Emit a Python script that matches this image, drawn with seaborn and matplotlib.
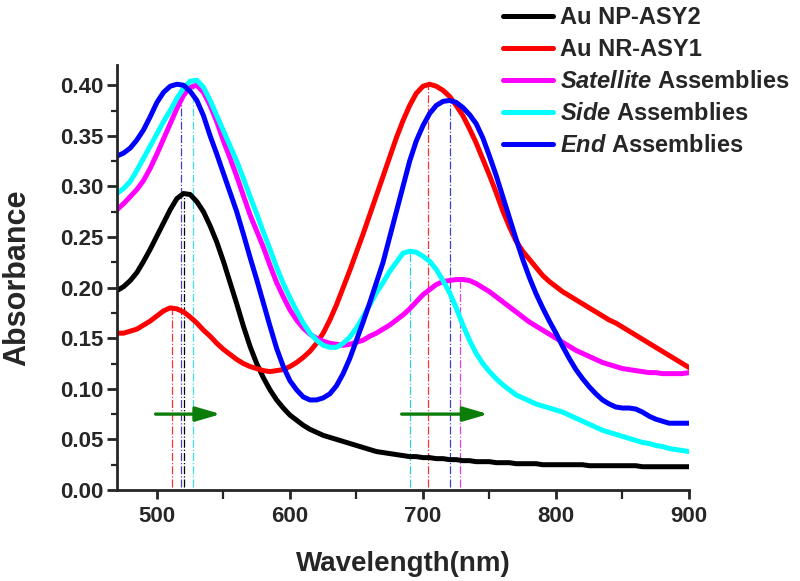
import matplotlib
matplotlib.use("Agg")
import matplotlib.pyplot as plt
from matplotlib.ticker import MultipleLocator, FormatStrFormatter
import seaborn as sns
import pandas as pd

# wavelength grid (nm) shared by all spectra, 5 nm steps; 10 values per row below
wavelength = list(range(470, 901, 5))

np_asy2 = [0.197, 0.201, 0.207, 0.215, 0.226, 0.238, 0.251, 0.264, 0.277, 0.288,
           0.293, 0.292, 0.285, 0.275, 0.261, 0.245, 0.226, 0.205, 0.184, 0.162,
           0.142, 0.125, 0.111, 0.099, 0.089, 0.081, 0.074, 0.069, 0.064, 0.060,
           0.057, 0.054, 0.052, 0.050, 0.048, 0.046, 0.044, 0.042, 0.040, 0.038,
           0.037, 0.036, 0.035, 0.034, 0.033, 0.033, 0.032, 0.032, 0.031, 0.031,
           0.030, 0.030, 0.029, 0.029, 0.028, 0.028, 0.028, 0.027, 0.027, 0.027,
           0.026, 0.026, 0.026, 0.026, 0.025, 0.025, 0.025, 0.025, 0.025, 0.025,
           0.025, 0.024, 0.024, 0.024, 0.024, 0.024, 0.024, 0.024, 0.024, 0.023,
           0.023, 0.023, 0.023, 0.023, 0.023, 0.023, 0.023]
nr_asy1 = [0.155, 0.155, 0.157, 0.159, 0.163, 0.167, 0.172, 0.177, 0.180, 0.179,
           0.176, 0.171, 0.165, 0.158, 0.152, 0.145, 0.139, 0.134, 0.129, 0.125,
           0.122, 0.120, 0.118, 0.117, 0.118, 0.119, 0.122, 0.126, 0.131, 0.137,
           0.145, 0.155, 0.168, 0.183, 0.200, 0.217, 0.235, 0.253, 0.272, 0.291,
           0.310, 0.329, 0.348, 0.365, 0.380, 0.392, 0.399, 0.401, 0.399, 0.395,
           0.389, 0.380, 0.370, 0.357, 0.343, 0.327, 0.311, 0.294, 0.276, 0.260,
           0.246, 0.236, 0.228, 0.220, 0.212, 0.206, 0.201, 0.196, 0.192, 0.188,
           0.184, 0.180, 0.176, 0.172, 0.168, 0.165, 0.161, 0.157, 0.153, 0.149,
           0.145, 0.141, 0.137, 0.133, 0.129, 0.125, 0.121]
satellite = [0.277, 0.283, 0.290, 0.297, 0.306, 0.318, 0.332, 0.347, 0.362, 0.377,
             0.390, 0.398, 0.400, 0.393, 0.380, 0.364, 0.345, 0.328, 0.310, 0.291,
             0.272, 0.256, 0.240, 0.222, 0.205, 0.191, 0.178, 0.168, 0.160, 0.154,
             0.150, 0.147, 0.145, 0.144, 0.143, 0.144, 0.146, 0.148, 0.152, 0.155,
             0.159, 0.163, 0.168, 0.173, 0.179, 0.186, 0.193, 0.198, 0.203, 0.206,
             0.207, 0.208, 0.208, 0.207, 0.204, 0.200, 0.196, 0.191, 0.186, 0.181,
             0.176, 0.171, 0.166, 0.162, 0.158, 0.154, 0.150, 0.146, 0.142, 0.138,
             0.135, 0.132, 0.129, 0.126, 0.124, 0.122, 0.120, 0.119, 0.118, 0.117,
             0.116, 0.116, 0.115, 0.115, 0.115, 0.115, 0.116]
side = [0.293, 0.298, 0.305, 0.316, 0.328, 0.340, 0.352, 0.364, 0.375, 0.387,
        0.397, 0.404, 0.405, 0.398, 0.385, 0.370, 0.355, 0.340, 0.325, 0.308,
        0.290, 0.273, 0.255, 0.238, 0.220, 0.204, 0.190, 0.177, 0.165, 0.155,
        0.148, 0.143, 0.141, 0.141, 0.145, 0.151, 0.160, 0.171, 0.183, 0.195,
        0.205, 0.216, 0.225, 0.234, 0.236, 0.235, 0.231, 0.226, 0.218, 0.207,
        0.195, 0.180, 0.163, 0.148, 0.135, 0.125, 0.117, 0.110, 0.104, 0.099,
        0.094, 0.091, 0.088, 0.085, 0.083, 0.081, 0.079, 0.077, 0.074, 0.071,
        0.068, 0.065, 0.062, 0.059, 0.057, 0.055, 0.053, 0.051, 0.049, 0.047,
        0.046, 0.044, 0.043, 0.041, 0.040, 0.039, 0.038]
end = [0.330, 0.333, 0.338, 0.346, 0.356, 0.369, 0.383, 0.393, 0.399, 0.401,
       0.400, 0.394, 0.385, 0.370, 0.350, 0.332, 0.313, 0.294, 0.275, 0.253,
       0.230, 0.208, 0.185, 0.162, 0.140, 0.122, 0.108, 0.099, 0.092, 0.089,
       0.089, 0.091, 0.095, 0.103, 0.115, 0.130, 0.148, 0.166, 0.185, 0.205,
       0.225, 0.250, 0.275, 0.300, 0.325, 0.345, 0.360, 0.372, 0.380, 0.384,
       0.385, 0.383, 0.378, 0.371, 0.362, 0.348, 0.330, 0.311, 0.290, 0.269,
       0.248, 0.228, 0.210, 0.194, 0.180, 0.167, 0.155, 0.142, 0.130, 0.119,
       0.110, 0.102, 0.095, 0.089, 0.085, 0.082, 0.081, 0.081, 0.080, 0.077,
       0.073, 0.070, 0.068, 0.066, 0.066, 0.066, 0.066]

samples = ["Au NP-ASY2", "Au NR-ASY1", "Satellite", "Side", "End"]
labels = ["Au NP-ASY2", "Au NR-ASY1",
          r"$\mathbfit{Satellite}$ Assemblies",
          r"$\mathbfit{Side}$ Assemblies",
          r"$\mathbfit{End}$ Assemblies"]
colors = ["#000000", "#ff0000", "#ff00ff", "#00ffff", "#0000ff"]

# plasmon peak markers: wavelength, peak absorbance, colour
peak_nm = [511, 518, 520.5, 527, 690, 704, 720, 728]
peak_abs = [0.180, 0.401, 0.293, 0.405, 0.236, 0.401, 0.385, 0.208]
peak_col = ["#ff3030", "#4040c8", "#000000", "#40e0e0", "#30d0d0", "#ff3030", "#4040c8", "#e040e0"]

# red-shift arrows
arrow_start = [499, 684]
arrow_end = [548, 749]
arrow_y = 0.075

df = pd.DataFrame({
    "wavelength": wavelength * 5,
    "absorbance": np_asy2 + nr_asy1 + satellite + side + end,
    "sample": [s for s in samples for _ in wavelength],
})

sns.set_style("ticks")
plt.rcParams["font.family"] = ["Liberation Sans", "DejaVu Sans"]
plt.rcParams["font.weight"] = "bold"
plt.rcParams["mathtext.fontset"] = "custom"
plt.rcParams["mathtext.bfit"] = "Liberation Sans:italic:bold"
plt.rcParams["mathtext.rm"] = "Liberation Sans:bold"

fig = plt.figure(figsize=(8, 5.81), dpi=100)
ax = fig.add_axes([117 / 800, 1 - 490 / 581, 572 / 800, 425 / 581])

# thin dash-dot lines marking the peak positions
ax.vlines(peak_nm, 0.003, peak_abs, colors=peak_col, linestyles="-.", lw=0.9, zorder=1)

sns.lineplot(data=df, x="wavelength", y="absorbance", hue="sample",
             hue_order=samples, palette=colors, lw=3.6, sort=False,
             solid_joinstyle="round", legend=False, ax=ax, zorder=2)

for x0, x1 in zip(arrow_start, arrow_end):
    ax.annotate("", xy=(x1, arrow_y), xytext=(x0, arrow_y),
                arrowprops=dict(arrowstyle="-|>,head_length=0.75,head_width=0.22",
                                color="#0b7d0b", lw=2.4, mutation_scale=20,
                                shrinkA=0, shrinkB=0), zorder=3)

ax.set_xlim(470, 900)
ax.set_ylim(0, 0.42)
ax.xaxis.set_major_locator(MultipleLocator(100))
ax.xaxis.set_minor_locator(MultipleLocator(50))
ax.yaxis.set_major_locator(MultipleLocator(0.05))
ax.yaxis.set_minor_locator(MultipleLocator(0.025))
ax.yaxis.set_major_formatter(FormatStrFormatter("%.2f"))

sns.despine(ax=ax)
for side_name in ["left", "bottom"]:
    ax.spines[side_name].set_linewidth(2.0)
ax.tick_params(which="major", length=7, width=2.0, labelsize=16, pad=3)
ax.tick_params(which="minor", length=4, width=1.6)
ax.tick_params(axis="x", which="both", length=6.5, pad=5)

ax.set_xlabel("Wavelength(nm)", fontsize=20, fontweight="bold", labelpad=17)
ax.set_ylabel("Absorbance", fontsize=22, fontweight="bold")
ax.yaxis.set_label_coords(-0.148, 0.5)

handles = ax.get_lines()[:5]
ax.legend(handles, labels, loc="upper left", bbox_to_anchor=(503 / 800, 1 - 6 / 581),
          bbox_transform=fig.transFigure, frameon=False,
          handlelength=2.1, handletextpad=0.3, labelspacing=0.38,
          borderpad=0, borderaxespad=0, prop={"weight": "bold", "size": 17})

fig.savefig("out.png", dpi=100)
